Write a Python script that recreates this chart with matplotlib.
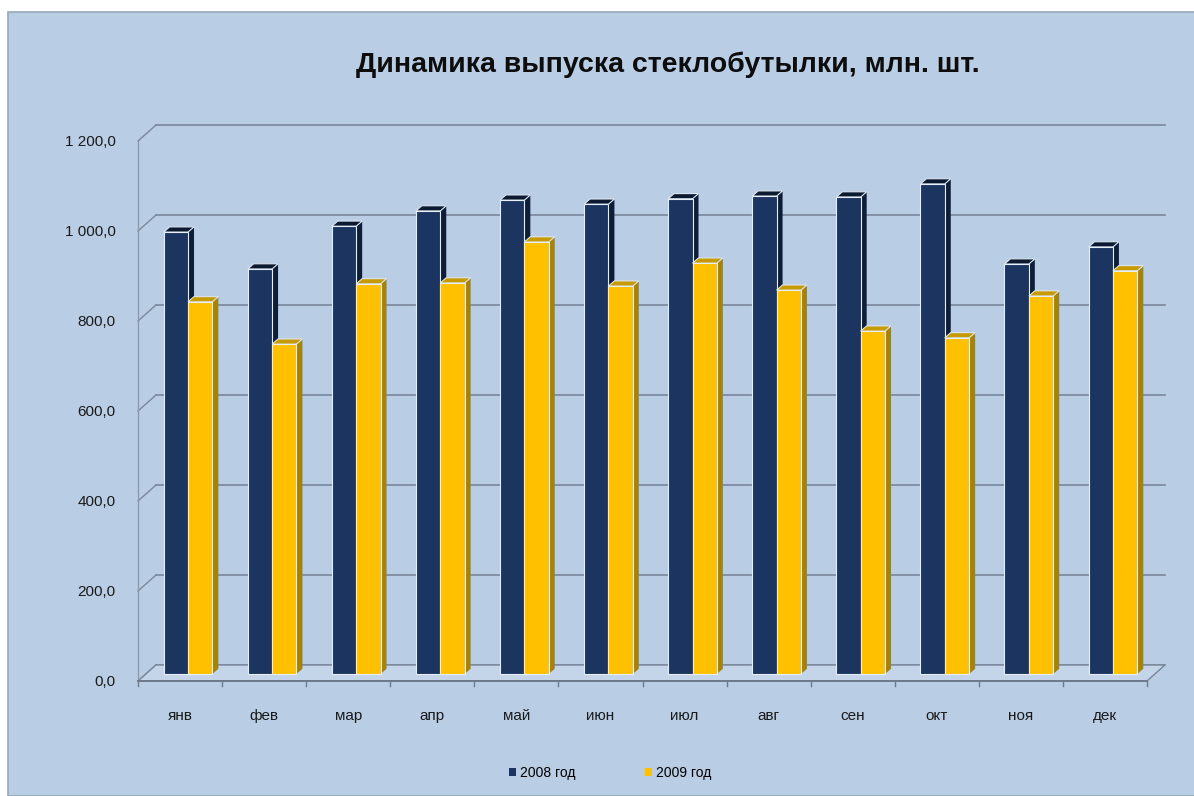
import matplotlib.pyplot as plt
from matplotlib.patches import Polygon, Rectangle
import numpy as np

months = ['янв', 'фев', 'мар', 'апр', 'май', 'июн', 'июл', 'авг', 'сен', 'окт', 'ноя', 'дек']
y2008 = [982, 900, 995, 1029, 1053, 1044, 1056, 1062, 1060, 1089, 911, 949]
y2009 = [827, 733, 867, 869, 960, 862, 913, 853, 762, 747, 840, 896]
series_names = ['2008 год', '2009 год']
yticks = [0, 200, 400, 600, 800, 1000, 1200]

plt.rcParams['font.family'] = ['Liberation Sans', 'DejaVu Sans']

bg = '#B9CDE5'
grid_c = '#7A879B'
navy = ('#1B3560', '#0E1E38', '#0B1A30')   # front, side, top
gold = ('#FFC000', '#A88300', '#C79A00')

fig = plt.figure(figsize=(11.94, 7.96), dpi=100)
fig.patch.set_facecolor('white')
# blue chart area with thin border
fig.patches.append(Rectangle((8 / 1194, 0), 1, 1 - 12 / 796, transform=fig.transFigure,
                             facecolor=bg, edgecolor='#9AA8B8', lw=1.2, zorder=-5))

ax = fig.add_axes([138 / 1194, 115 / 796, 1009 / 1194, 540 / 796])
ax.set_zorder(2)
ax.set_facecolor('none')
ax.set_xlim(0, 12)
ax.set_ylim(0, 1200)
for s in ax.spines.values():
    s.set_visible(False)

# depth of the chart box (in data units)
DX, DY = 18 / 84.08, 16 / 0.45

# back wall gridlines and side wall diagonals
for v in yticks:
    ax.plot([DX, 12 + DX], [v + DY, v + DY], color=grid_c, lw=1.2, clip_on=False, zorder=1)
    ax.plot([0, DX], [v, v + DY], color=grid_c, lw=1.0, clip_on=False, zorder=1)
ax.plot([0, 0], [0, 1200], color='#8D9AAD', lw=1.0, clip_on=False, zorder=1)
# floor
floor = Polygon([(0, 0), (12, 0), (12 + DX, DY), (DX, DY)], closed=True,
                facecolor='#C4D5EA', edgecolor=grid_c, lw=1.0, clip_on=False, zorder=1)
ax.add_patch(floor)
ax.plot([0, 12], [0, 0], color='#6E7B8F', lw=1.4, clip_on=False, zorder=2)
for k in range(13):
    ax.plot([k, k], [0, -10], color='#6E7B8F', lw=1.0, clip_on=False, zorder=2)

# 3D-looking bars
bw = 0.29
off_x, off_y = 0.095, 15.6
ddx, ddy = 0.071, 11.5
x = np.arange(12) + 0.5 + off_x


def bar3d(x0, h, cols):
    x1 = x0 + bw
    b = off_y
    side = Polygon([(x1, b), (x1 + ddx, b + ddy), (x1 + ddx, b + h + ddy), (x1, b + h)],
                   closed=True, facecolor=cols[1], edgecolor='none', zorder=3)
    top = Polygon([(x0, b + h), (x1, b + h), (x1 + ddx, b + h + ddy), (x0 + ddx, b + h + ddy)],
                  closed=True, facecolor=cols[2], edgecolor='#DCE6F2', lw=0.8, zorder=3)
    ax.add_patch(side)
    ax.add_patch(top)
    ax.bar(x0, h, width=bw, bottom=b, align='edge', color=cols[0],
           edgecolor='#E6EEF8', linewidth=0.8, zorder=3)


for i in range(12):
    bar3d(x[i] - bw, y2008[i], navy)
    bar3d(x[i], y2009[i], gold)

ax.set_yticks(yticks)
ax.set_yticklabels([f'{v:,.1f}'.replace(',', ' ').replace('.', ',') for v in yticks],
                   fontsize=11, color='#1A1A1A')
ax.set_xticks(np.arange(12) + 0.5)
ax.set_xticklabels(months, fontsize=11, color='#1A1A1A')
ax.tick_params(axis='y', length=0, pad=16)
ax.tick_params(axis='x', length=0, pad=20)

fig.text(668 / 1194, 1 - 65 / 796, 'Динамика выпуска стеклобутылки, млн. шт.',
         ha='center', va='center', fontsize=20.5, fontweight='bold', color='#0D0D0D')

handles = [Rectangle((0, 0), 1, 1, facecolor=navy[0]), Rectangle((0, 0), 1, 1, facecolor=gold[0])]
fig.legend(handles, series_names, loc='center', bbox_to_anchor=(610 / 1194, 23 / 796),
           ncol=2, frameon=False, fontsize=10, handlelength=0.5, handleheight=0.5,
           handletextpad=0.3, columnspacing=5)

fig.savefig('out.png', dpi=100, facecolor=fig.get_facecolor())
